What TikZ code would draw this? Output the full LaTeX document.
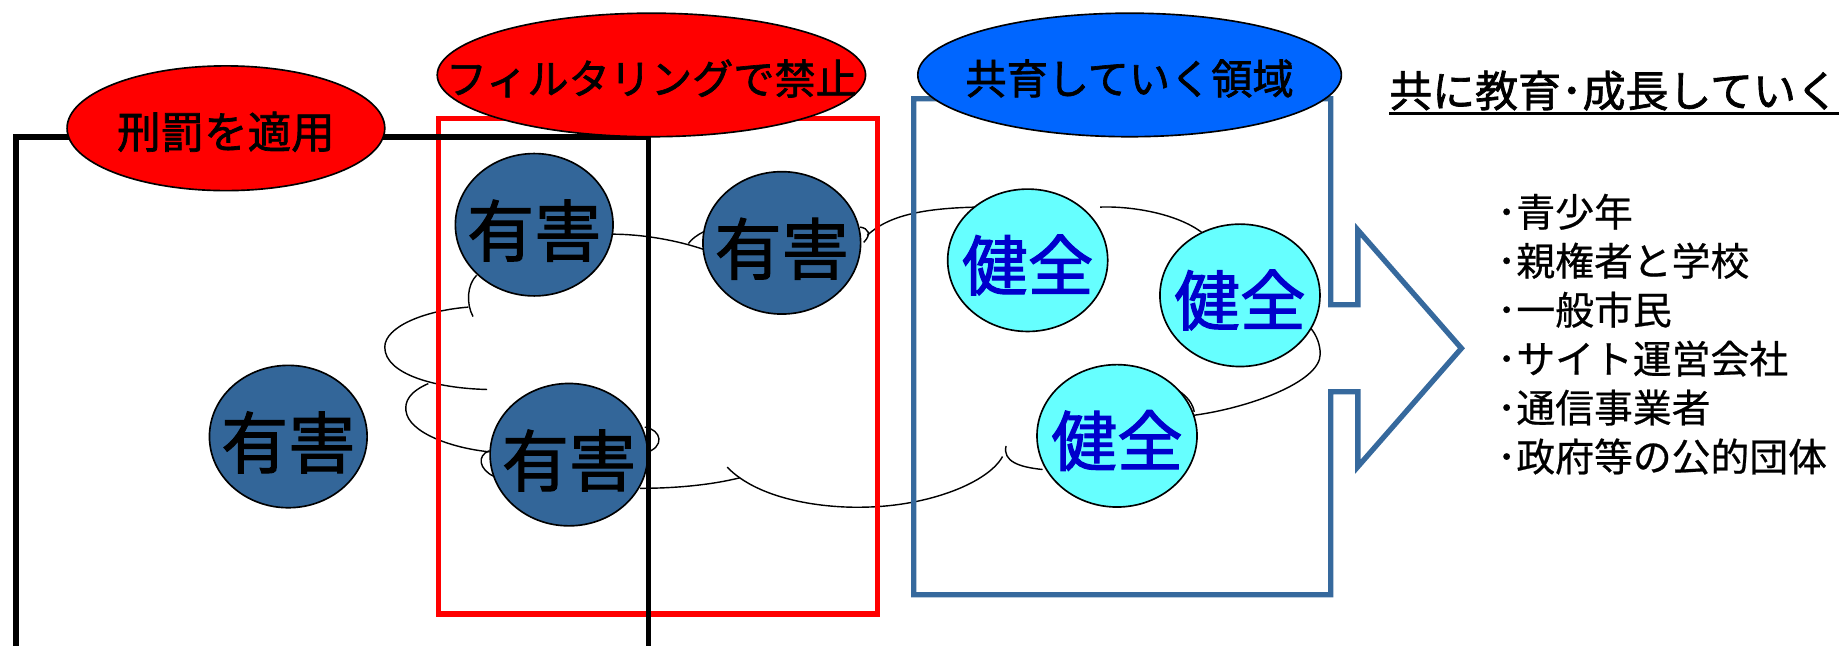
\documentclass[tikz,border=0pt]{standalone}
\usepackage{fontspec}
\newfontfamily\jp[FakeBold=0.6]{Noto Sans CJK JP}
\newfontfamily\jpm[FakeBold=1.6]{Noto Sans CJK JP}
\usetikzlibrary{shapes.geometric}
\definecolor{harm}{HTML}{336699}
\definecolor{safe}{HTML}{66FFFF}
\definecolor{safetext}{HTML}{0000CC}
\definecolor{lblred}{HTML}{FF0000}
\definecolor{lblblue}{HTML}{0066FF}
\definecolor{zone}{HTML}{36699D}
\begin{document}
\begin{tikzpicture}[x=1pt,y=-1pt,
  cloudline/.style={draw=black, line width=1.2pt},
  zoneline/.style={line width=4.5pt, line join=miter},
  hai/.style={ellipse, draw=black, line width=1.4pt, fill=harm, inner sep=0pt,
    minimum width=134pt, minimum height=121pt},
  ken/.style={ellipse, draw=black, line width=1.4pt, fill=safe, inner sep=0pt,
    minimum width=136pt, minimum height=121pt},
  haitext/.style={font=\jpm\fontsize{57}{57}\selectfont, text=black, inner sep=0pt},
  kentext/.style={font=\jpm\fontsize{56}{56}\selectfont, text=safetext, inner sep=0pt},
  tag/.style={ellipse, draw=black, line width=1.4pt, inner sep=0pt},
  tagtext/.style={font=\jpm\fontsize{35}{35}\selectfont, text=black, inner sep=0pt},
  listtext/.style={font=\jp\fontsize{33}{33}\selectfont, text=black, inner sep=0pt, anchor=west}
]
\useasboundingbox (0,0) rectangle (1568,549);
\clip (0,0) rectangle (1568,549);

% cloud
\draw[cloudline] (405,234) .. controls (397,242) and (396,258) .. (402,269);
\draw[cloudline] (398,261) .. controls (360,264) and (327,278) .. (327,295) .. controls (327,318) and (370,330) .. (414,331);
\draw[cloudline] (364,326) .. controls (348,333) and (344,341) .. (345,349) .. controls (347,368) and (385,381) .. (416,384);
\draw[cloudline] (416,383) .. controls (405,387) and (407,399) .. (420,405);
\draw[cloudline] (548,363) .. controls (562,365) and (566,380) .. (548,385);
\draw[cloudline] (544,415) .. controls (575,415) and (605,412) .. (629,406);
\draw[cloudline] (618,397) .. controls (645,425) and (700,432) .. (735,431) .. controls (790,430) and (840,410) .. (852,388);
\draw[cloudline] (855,379) .. controls (852,392) and (866,397) .. (886,399);
\draw[cloudline] (1014,353) .. controls (1060,347) and (1122,325) .. (1122,301) .. controls (1122,293) and (1119,285) .. (1114,279);
\draw[cloudline] (993,327) .. controls (1005,333) and (1013,340) .. (1015,350);
\draw[cloudline] (935,176) .. controls (960,175) and (1000,181) .. (1022,198);
\draw[cloudline] (737,200) .. controls (755,183) and (785,177) .. (830,176);
\draw[cloudline] (731,193) .. controls (738,194) and (741,199) .. (734,206);
\draw[cloudline] (520,199) .. controls (545,199) and (575,204) .. (598,212);
\draw[cloudline] (585,207) .. controls (588,203) and (592,200) .. (598,197);

% filtering zone (red)
\draw[zoneline, draw=lblred] (372.6,100.6) rectangle (746,521.8);

% harmful items
\node[hai, label={[haitext,yshift=-5pt]center:有害}] (h1) at (454,191) {};
\node[hai, label={[haitext,yshift=-5pt]center:有害}] (h2) at (664.4,206.4) {};
\node[hai, label={[haitext,yshift=-5pt]center:有害}] (h3) at (483.5,386.4) {};
\node[hai, label={[haitext,yshift=-5pt]center:有害}] (h4) at (245,371) {};

% penalty zone (black)
\draw[zoneline, draw=black] (13.5,116.4) rectangle (551,570);

% education zone with arrow (blue)
\draw[zoneline, draw=zone] (776.6,84) -- (1131,84) -- (1131,259) -- (1154,259) -- (1154,195.5)
  -- (1242,296) -- (1154,396.6) -- (1154,333) -- (1131,333) -- (1131,505.4) -- (776.6,505.4) -- cycle;

% healthy items
\node[ken, label={[kentext,yshift=-4pt]center:健全}] (k1) at (873.4,221.2) {};
\node[ken, label={[kentext,yshift=-4pt]center:健全}] (k2) at (1053.8,251) {};
\node[ken, label={[kentext,yshift=-4pt]center:健全}] (k3) at (949.3,370.4) {};

% labels
\node[tag, fill=lblred, minimum width=270pt, minimum height=106pt,
  label={[tagtext,font=\jpm\fontsize{37}{37}\selectfont,yshift=-3pt]center:刑罰を適用}] (penalty) at (192,109) {};
\node[tag, fill=lblred, minimum width=364pt, minimum height=105pt,
  label={[tagtext,yshift=-3pt]center:フィルタリングで禁止}] (filter) at (553.6,63.7) {};
\node[tag, fill=lblblue, minimum width=360pt, minimum height=105pt,
  label={[tagtext,yshift=-3pt]center:共育していく領域}] (edu) at (960,63.7) {};

% title
\node[tagtext, font=\jpm\fontsize{36.5}{36.5}\selectfont, anchor=west] (title) at (1180.5,77) {共に教育･成長していく};
\coordinate (ul) at (0,96.5);
\draw[line width=2pt] (title.west |- ul) -- (title.east |- ul);

% list
\node[listtext] (l1) at (1272,180) {･青少年};
\node[listtext] (l2) at (1272,221.6) {･親権者と学校};
\node[listtext] (l3) at (1272,263.2) {･一般市民};
\node[listtext] (l4) at (1272,304.8) {･サイト運営会社};
\node[listtext] (l5) at (1272,346.4) {･通信事業者};
\node[listtext] (l6) at (1272,388) {･政府等の公的団体};
\end{tikzpicture}
\end{document}
